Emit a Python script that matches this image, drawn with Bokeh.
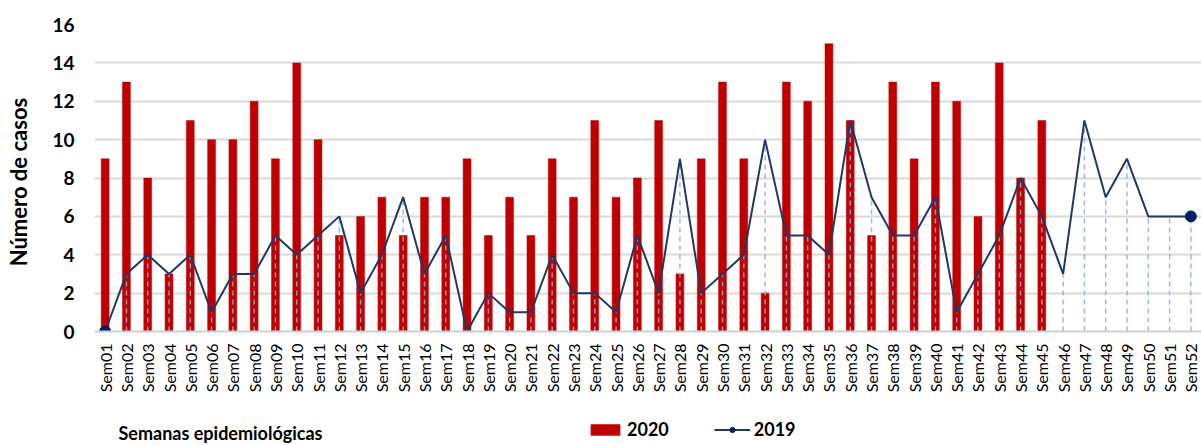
import math
from bokeh.plotting import figure
from bokeh.layouts import column, row
from bokeh.models import (FixedTicker, Label, Legend, LegendItem, Range1d)
from bokeh.embed import file_html
from bokeh.resources import INLINE

semanas = ["Sem%02d" % i for i in range(1, 53)]
casos_2020 = [9, 13, 8, 3, 11, 10, 10, 12, 9, 14, 10, 5, 6, 7, 5, 7, 7, 9, 5, 7,
              5, 9, 7, 11, 7, 8, 11, 3, 9, 13, 9, 2, 13, 12, 15, 11, 5, 13, 9, 13,
              12, 6, 14, 8, 11]
casos_2019 = [0, 3, 4, 3, 4, 1, 3, 3, 5, 4, 5, 6, 2, 4, 7, 3, 5, 0, 2, 1,
              1, 4, 2, 2, 1, 5, 2, 9, 2, 3, 4, 10, 5, 5, 4, 11, 7, 5, 5, 7,
              1, 3, 5, 8, 6, 3, 11, 7, 9, 6, 6, 6]
y_ticks = [0, 2, 4, 6, 8, 10, 12, 14, 16]
series_labels = ["2020", "2019"]
y_title = "Número de casos"
x_title = "Semanas epidemiológicas"

FONT = "Lato"
RED = "#C00000"
NAVY = "#1F3864"
MARK = "#002060"
DROP = "#8FAADC"

TOTAL_W, TOTAL_H = 1201, 445
LEFT_W = 40          # strip holding the y title
MAIN_H = 415         # main chart height
BOTTOM_H = TOTAL_H - MAIN_H

x_all = list(range(len(semanas)))
x_2020 = x_all[:len(casos_2020)]

# ---------------- main chart ----------------
p = figure(width=TOTAL_W - LEFT_W, height=MAIN_H, output_backend="svg",
           toolbar_location=None,
           x_range=Range1d(-0.5, len(semanas) - 0.5), y_range=Range1d(0, 16),
           min_border_left=94 - LEFT_W, min_border_right=0, min_border_top=24,
           min_border_bottom=MAIN_H - 331)
p.outline_line_color = None
p.background_fill_color = "white"
p.border_fill_color = "white"

p.vbar(x=x_2020, top=casos_2020, width=0.37, fill_color=RED,
       line_color=RED, line_width=0.5)
p.segment(x0=x_all, y0=[0] * len(x_all), x1=x_all, y1=casos_2019,
          line_color=DROP, line_width=1.5, line_dash="5 4", line_alpha=0.85)
p.line(x=x_all, y=casos_2019, line_color=NAVY, line_width=2)
p.scatter(x=[x_all[0], x_all[-1]], y=[casos_2019[0], casos_2019[-1]],
          size=11, fill_color=MARK, line_color=MARK)

p.xaxis.ticker = FixedTicker(ticks=x_all)
p.xaxis.major_label_overrides = {i: s for i, s in zip(x_all, semanas)}
p.xaxis.major_label_orientation = math.pi / 2
p.xaxis.major_label_text_font = FONT
p.xaxis.major_label_text_font_size = "16px"
p.xaxis.major_label_text_color = "#000000"
p.xaxis.major_label_standoff = 12
p.xaxis.major_tick_line_color = None
p.xaxis.major_tick_out = 0
p.xaxis.major_tick_in = 0
p.xaxis.minor_tick_line_color = None
p.xaxis.axis_line_color = "#D0D0D0"
p.xaxis.axis_line_width = 2

p.yaxis.ticker = FixedTicker(ticks=y_ticks)
p.yaxis.major_label_text_font = FONT
p.yaxis.major_label_text_font_size = "19px"
p.yaxis.major_label_text_font_style = "bold"
p.yaxis.major_label_text_color = "#000000"
p.yaxis.major_label_standoff = 20
p.yaxis.major_tick_out = 0
p.yaxis.major_tick_in = 0
p.yaxis.major_tick_line_color = None
p.yaxis.minor_tick_line_color = None
p.yaxis.axis_line_color = None

p.xgrid.grid_line_color = None
p.ygrid.ticker = FixedTicker(ticks=y_ticks)
p.ygrid.grid_line_color = "#D9D9D9"
p.ygrid.grid_line_width = 2

# ---------------- left strip: y title ----------------
pt = figure(width=LEFT_W, height=MAIN_H, output_backend="svg",
            toolbar_location=None, x_axis_location=None, y_axis_location=None,
            x_range=Range1d(0, LEFT_W), y_range=Range1d(0, MAIN_H),
            min_border=0, min_border_left=0, min_border_right=0,
            min_border_top=0, min_border_bottom=0)
pt.outline_line_color = None
pt.grid.visible = False
pt.add_layout(Label(x=18, y=202, text=y_title, angle=math.pi / 2,
                    text_align="center", text_baseline="middle",
                    text_font=FONT, text_font_size="22px",
                    text_font_style="bold", text_color="#000000"))

# ---------------- bottom strip: x title + legend ----------------
pb = figure(width=TOTAL_W, height=BOTTOM_H, output_backend="svg",
            toolbar_location=None, x_axis_location=None, y_axis_location=None,
            x_range=Range1d(0, TOTAL_W), y_range=Range1d(0, BOTTOM_H),
            min_border=0, min_border_left=0, min_border_right=0,
            min_border_top=0, min_border_bottom=0)
pb.outline_line_color = None
pb.grid.visible = False
pb.add_layout(Label(x=118, y=13, text=x_title, text_align="left",
                    text_baseline="middle",
                    text_font=FONT, text_font_size="18px",
                    text_font_style="bold", text_color="#000000"))

# legend proxies (hidden; they only lend their styles to the legend swatches)
lg_bar = pb.vbar(x=x_2020, top=casos_2020, width=0.37,
                 fill_color=RED, line_color=RED, visible=False)
lg_line = pb.line(x=x_all, y=casos_2019, line_color=NAVY, line_width=2,
                  visible=False)
lg_mark = pb.scatter(x=x_all, y=casos_2019, size=11,
                     fill_color=MARK, line_color=MARK, visible=False)

legend = Legend(items=[LegendItem(label=series_labels[0], renderers=[lg_bar]),
                       LegendItem(label=series_labels[1],
                                  renderers=[lg_line, lg_mark])],
                orientation="horizontal", location=(587, 5),
                glyph_width=36, glyph_height=13, label_standoff=4, spacing=45,
                padding=0, margin=0, border_line_color=None,
                background_fill_alpha=0, inactive_fill_alpha=0,
                label_text_font=FONT, label_text_font_size="18px",
                label_text_font_style="bold", label_text_color="#000000")
pb.add_layout(legend, "center")

layout = column(row(pt, p, spacing=0), pb, spacing=0)

open("out.html", "w").write(file_html(layout, INLINE))
